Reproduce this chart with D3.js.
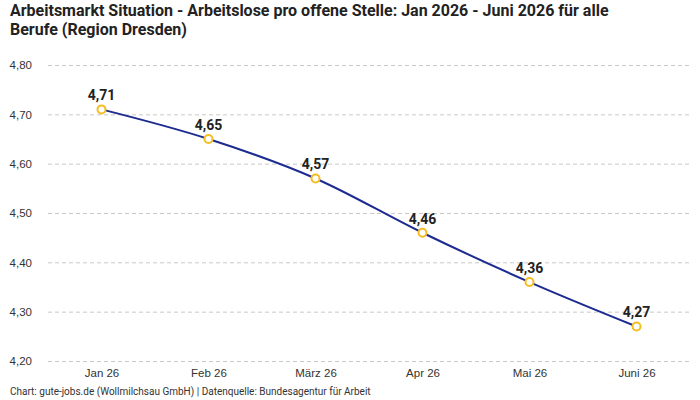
<!DOCTYPE html>
<html lang="de">
<head>
<meta charset="utf-8" />
<title>Arbeitslose pro offene Stelle - Dresden</title>
<script src="https://cdn.jsdelivr.net/npm/d3@7"></script>
<style>
  body { margin: 0; background: #fff; }
  svg { font-family: "Roboto", "Liberation Sans", sans-serif; }
</style>
</head>
<body>
<div id="chart"></div>
<script>
// data
var months = ["Jan 26", "Feb 26", "März 26", "Apr 26", "Mai 26", "Juni 26"];
var values = [4.71, 4.65, 4.57, 4.46, 4.36, 4.27];
var yTicks = [4.2, 4.3, 4.4, 4.5, 4.6, 4.7, 4.8];

var W = 700, H = 400;
var margin = {top: 65, right: 10, bottom: 39, left: 48};
var fmt = function(v) { return d3.format(".2f")(v).replace(".", ","); };

var svg = d3.select("#chart").append("svg")
    .attr("width", W).attr("height", H);

// title
svg.append("text").attr("x", 10).attr("y", 16)
  .style("font-size", "16px").style("font-weight", "bold").attr("fill", "#222")
  .text("Arbeitsmarkt Situation - Arbeitslose pro offene Stelle: Jan 2026 - Juni 2026 für alle");
svg.append("text").attr("x", 10).attr("y", 35)
  .style("font-size", "16px").style("font-weight", "bold").attr("fill", "#222")
  .text("Berufe (Region Dresden)");

var x = d3.scalePoint()
  .domain(months)
  .range([margin.left, W - margin.right])
  .padding(0.5);

var y = d3.scaleLinear()
  .domain([4.2, 4.8])
  .range([H - margin.bottom, margin.top]);

// gridlines
svg.append("g").selectAll("line")
  .data(yTicks).enter().append("line")
    .attr("x1", margin.left).attr("x2", W - margin.right)
    .attr("y1", function(d) { return y(d) + 0.5; })
    .attr("y2", function(d) { return y(d) + 0.5; })
    .attr("stroke", "#c8c8c8")
    .attr("stroke-dasharray", "4,3");

// y axis labels
var yAxis = svg.append("g")
  .attr("transform", "translate(" + (margin.left - 13) + ",0)")
  .call(d3.axisLeft(y).tickValues(yTicks).tickFormat(fmt).tickSize(0));
yAxis.select(".domain").remove();
yAxis.selectAll("text").style("font-size", "11.5px").attr("fill", "#333");

// x axis labels
var xAxis = svg.append("g")
  .attr("transform", "translate(0," + (H - margin.bottom + 5) + ")")
  .call(d3.axisBottom(x).tickSize(0));
xAxis.select(".domain").remove();
xAxis.selectAll("text").style("font-size", "11.5px").attr("fill", "#333");

// line
svg.append("path")
  .datum(values)
  .attr("fill", "none")
  .attr("stroke", "#1c2b8f")
  .attr("stroke-width", 2)
  .attr("d", d3.line()
    .x(function(d, i) { return x(months[i]); })
    .y(function(d) { return y(d); })
    .curve(d3.curveMonotoneX));

// points
svg.append("g").selectAll("circle")
  .data(values).enter().append("circle")
    .attr("cx", function(d, i) { return x(months[i]); })
    .attr("cy", function(d) { return y(d); })
    .attr("r", 4)
    .attr("fill", "#fff")
    .attr("stroke", "#f5bd1f")
    .attr("stroke-width", 2);

// value labels
svg.append("g").selectAll("text")
  .data(values).enter().append("text")
    .attr("x", function(d, i) { return x(months[i]); })
    .attr("y", function(d) { return y(d) - 9; })
    .attr("text-anchor", "middle")
    .style("font-size", "14px").style("font-weight", "bold")
    .attr("fill", "#222")
    .text(fmt);

// footer
svg.append("text").attr("x", 10).attr("y", 395)
  .style("font-size", "10px").attr("fill", "#333")
  .text("Chart: gute-jobs.de (Wollmilchsau GmbH) | Datenquelle: Bundesagentur für Arbeit");
</script>
</body>
</html>
